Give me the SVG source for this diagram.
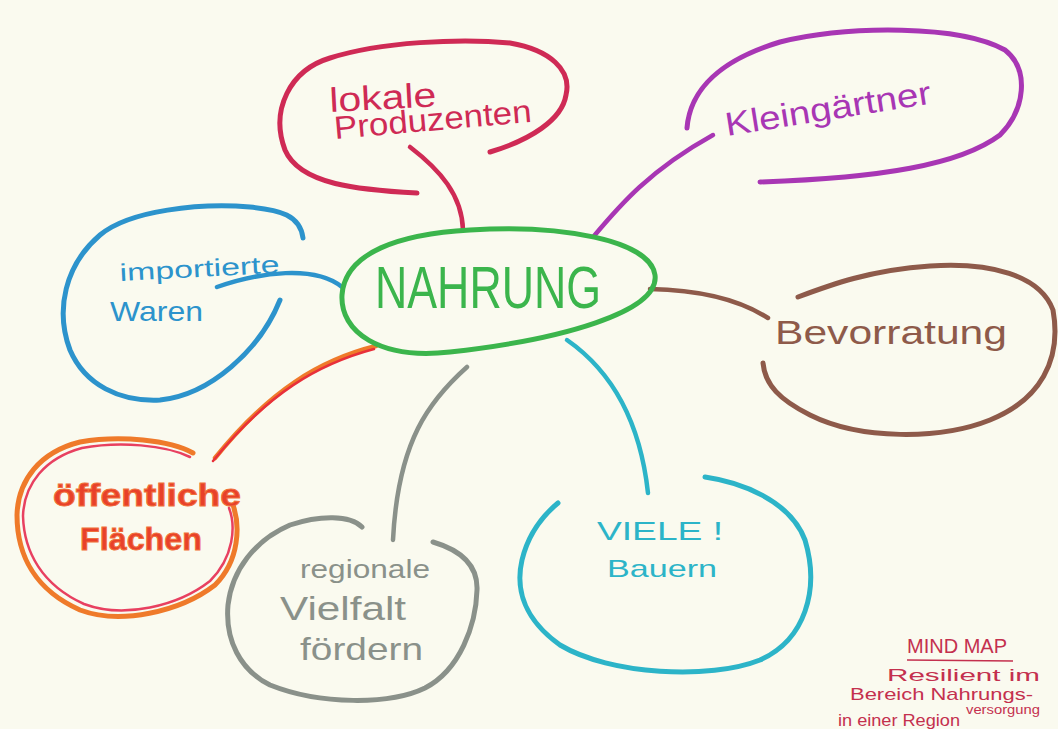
<svg xmlns="http://www.w3.org/2000/svg" width="1058" height="729" viewBox="0 0 1058 729">
<style>
.b{fill:none;stroke-width:5;stroke-linecap:round;stroke-linejoin:round}
.c{fill:none;stroke-width:4.5;stroke-linecap:round}
.t{font-family:"Liberation Sans","DejaVu Sans",sans-serif}
.red{stroke:#cf2a55}.redf{fill:#cf2a55}
.pur{stroke:#a836b4}.purf{fill:#a836b4}
.blu{stroke:#2c93cc}.bluf{fill:#2c93cc}
.grn{stroke:#3bb54c}.grnf{fill:#3bb54c}
.brn{stroke:#8e5a4a}.brnf{fill:#8e5a4a}
.cya{stroke:#2cb4c8}.cyaf{fill:#2cb4c8}
.gry{stroke:#8a918a}.gryf{fill:#8a918a}
.note{fill:#c4304e}
</style>
<rect width="1058" height="729" fill="#fafaef"/>
<g id="connectors">
<path class="c red" d="M410,147 C440,170 462,195 463,230"/>
<path class="c pur" d="M594,236 C620,205 650,170 713,135"/>
<path class="c blu" d="M217,287 C260,272 315,265 342,287"/>
<path class="c brn" d="M650,289 C700,290 740,300 768,318"/>
<path class="c cya" d="M567,340 C610,370 640,420 648,493"/>
<path class="c gry" d="M467,367 C430,400 398,440 393,540"/>
<path class="c" stroke="#ef7a2a" d="M376,346 C320,360 270,390 215,458"/>
<path fill="none" stroke="#e8303a" stroke-width="2.5" stroke-linecap="round" d="M374,349 C318,364 268,393 213,461"/>
</g>
<g id="nahrung">
<path class="b grn" d="M470,230 C560,224 650,240 655,275 C660,312 560,340 450,352 C380,360 340,332 342,295 C345,252 400,234 470,230 Z"/>
<text class="t grnf" x="375" y="308" font-size="60" textLength="226" lengthAdjust="spacingAndGlyphs">NAHRUNG</text>
</g>
<g id="lokale-produzenten">
<path class="b red" d="M417,193 C360,190 300,185 285,150 C270,110 290,70 330,58 C380,42 460,38 510,43 C550,50 572,70 566,95 C562,120 530,140 490,152"/>
<text class="t redf" x="330" y="112" font-size="34" textLength="107" lengthAdjust="spacingAndGlyphs" transform="rotate(-3 330 112)">lokale</text>
<text class="t redf" x="335" y="139" font-size="32" textLength="198" lengthAdjust="spacingAndGlyphs" transform="rotate(-5 335 139)">Produzenten</text>
</g>
<g id="kleingaertner">
<path class="b pur" d="M687,128 C690,90 720,60 780,42 C850,25 960,25 1005,50 C1030,70 1025,110 1000,135 C960,165 880,178 760,182"/>
<text class="t purf" x="727" y="136" font-size="33" textLength="208" lengthAdjust="spacingAndGlyphs" transform="rotate(-9 727 136)">Kleingärtner</text>
</g>
<g id="importierte-waren">
<path class="b blu" d="M303,238 C300,215 280,210 250,207 C200,203 130,210 100,235 C65,265 55,310 70,350 C85,385 120,402 160,400 C210,395 260,350 280,300"/>
<text class="t bluf" x="120" y="281" font-size="24" textLength="160" lengthAdjust="spacingAndGlyphs" transform="rotate(-3 120 281)">importierte</text>
<text class="t bluf" x="110" y="321" font-size="28" textLength="93" lengthAdjust="spacingAndGlyphs">Waren</text>
</g>
<g id="bevorratung">
<path class="b brn" d="M798,297 C830,285 870,270 930,266 C990,262 1040,275 1053,310 C1062,360 1040,400 990,420 C940,440 860,440 810,415 C780,400 765,385 763,363"/>
<text class="t brnf" x="775" y="344" font-size="34" textLength="232" lengthAdjust="spacingAndGlyphs">Bevorratung</text>
</g>
<g id="oeffentliche-flaechen">
<path class="b" stroke="#ef7a2a" d="M193,453 C170,440 120,435 80,442 C40,452 18,480 17,515 C17,555 35,590 80,610 C120,625 180,612 215,585 C240,560 240,525 233,505"/>
<path fill="none" stroke="#e84060" stroke-width="2.5" stroke-linecap="round" d="M190,457 C165,445 120,441 82,448 C45,458 24,484 23,516 C24,552 42,585 84,604 C124,619 178,606 210,581 C234,557 236,526 229,508"/>
<text class="t" fill="#e8402a" x="53" y="506" font-size="32" font-weight="bold" textLength="188" lengthAdjust="spacingAndGlyphs" stroke="#f0703a" stroke-width="1">öffentliche</text>
<text class="t" fill="#e8402a" x="80" y="550" font-size="32" font-weight="bold" textLength="122" lengthAdjust="spacingAndGlyphs" stroke="#f0703a" stroke-width="1">Flächen</text>
</g>
<g id="regionale-vielfalt">
<path class="b gry" d="M433,542 C460,550 478,565 477,590 C476,625 460,670 425,688 C390,705 320,705 270,685 C240,670 225,640 228,605 C232,570 255,540 290,525 C320,515 350,515 362,527"/>
<text class="t gryf" x="300" y="578" font-size="26" textLength="130" lengthAdjust="spacingAndGlyphs">regionale</text>
<text class="t gryf" x="280" y="620" font-size="34" textLength="126" lengthAdjust="spacingAndGlyphs">Vielfalt</text>
<text class="t gryf" x="300" y="660" font-size="32" textLength="123" lengthAdjust="spacingAndGlyphs">fördern</text>
</g>
<g id="viele-bauern">
<path class="b cya" d="M705,477 C740,482 790,500 805,540 C820,590 805,640 760,660 C710,680 610,675 560,645 C525,620 515,590 522,560 C528,535 540,518 558,503"/>
<text class="t cyaf" x="597" y="540" font-size="26" textLength="126" lengthAdjust="spacingAndGlyphs">VIELE !</text>
<text class="t cyaf" x="607" y="577" font-size="24" textLength="110" lengthAdjust="spacingAndGlyphs">Bauern</text>
</g>
<g id="note">
<text class="t note" x="907" y="653" font-size="20" textLength="100" lengthAdjust="spacingAndGlyphs">MIND MAP</text>
<path fill="none" stroke="#c4304e" stroke-width="1.5" d="M907,660 L1013,661"/>
<text class="t note" x="887" y="681" font-size="17" textLength="153" lengthAdjust="spacingAndGlyphs">Resilient im</text>
<text class="t note" x="850" y="700" font-size="17" textLength="183" lengthAdjust="spacingAndGlyphs">Bereich Nahrungs-</text>
<text class="t note" x="966" y="714" font-size="12" textLength="74" lengthAdjust="spacingAndGlyphs">versorgung</text>
<text class="t note" x="838" y="726" font-size="16" textLength="122" lengthAdjust="spacingAndGlyphs">in einer Region</text>
</g>
</svg>
